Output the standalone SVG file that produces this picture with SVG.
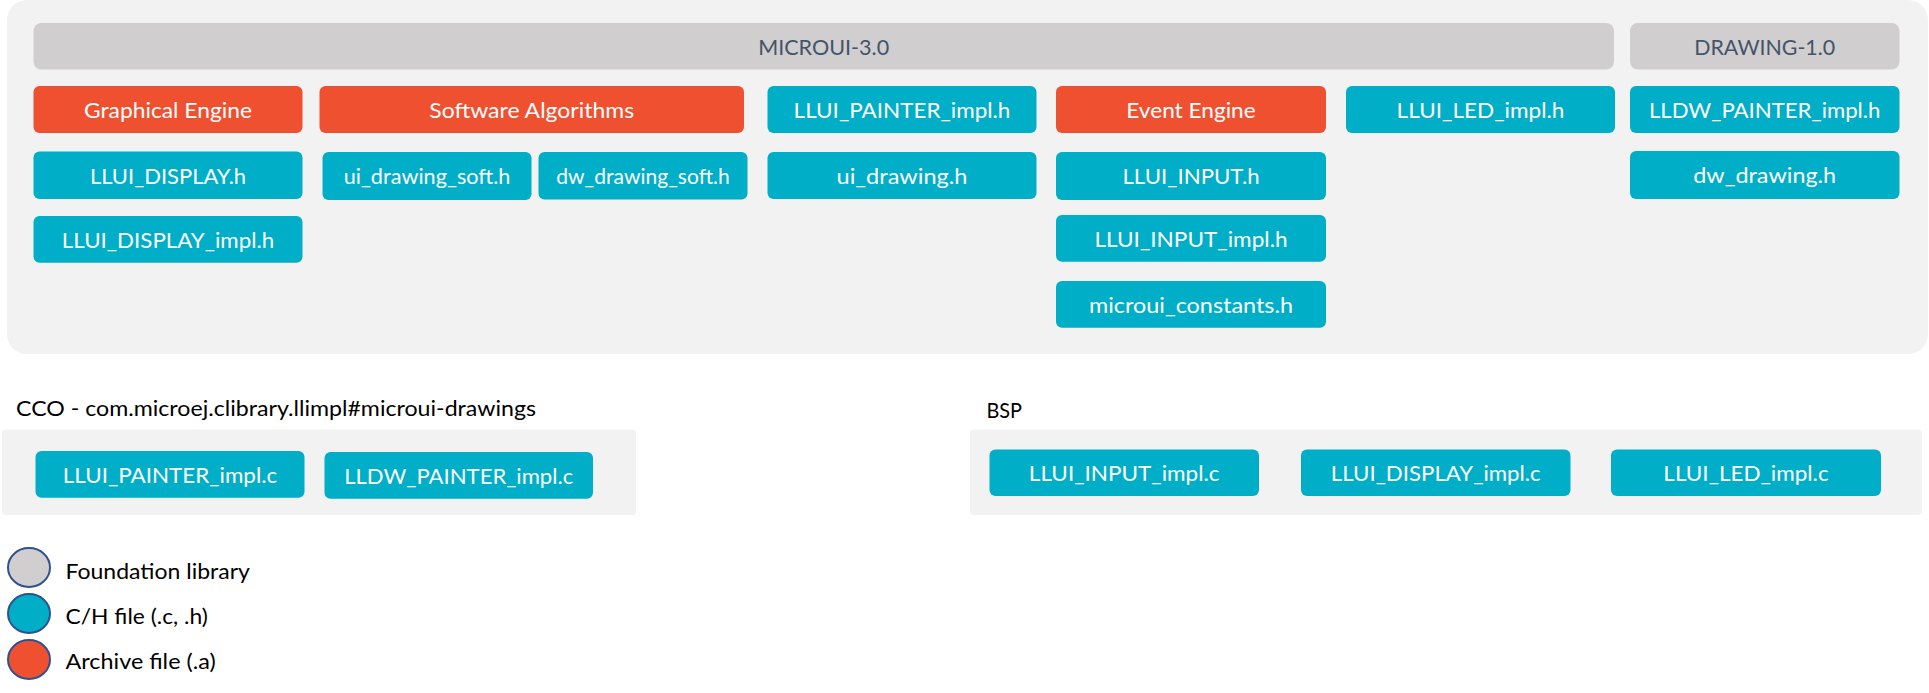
<svg xmlns="http://www.w3.org/2000/svg" width="1929" height="693" viewBox="0 0 1929 693">
  <style>
    text { font-family: Lato, "Open Sans", "Liberation Sans", sans-serif; }
    .panel { fill: #F2F2F2; }
    .lib { fill: #D0CECE; }
    .arch { fill: #EF5130; }
    .file { fill: #00AEC7; }
    .lib-t { fill: #44546A; font-size: 22px; text-anchor: middle; }
    .box-t { fill: #FFFFFF; font-size: 22px; text-anchor: middle; }
    .small-t { fill: #FFFFFF; font-size: 20.2px; text-anchor: middle; }
    .title { fill: #000000; font-size: 20.5px; }
    .legend-t { fill: #000000; font-size: 22px; }
    .dot { stroke: #2F528F; stroke-width: 2; }
  </style>

  <!-- Foundation libraries area -->
  <rect id="platform" class="panel" x="7" y="0" width="1921" height="354" rx="20"/>

  <g id="microui">
    <rect class="lib" x="33.5" y="23" width="1580.5" height="46.5" rx="8"/>
    <text class="lib-t" x="823.7" y="55" textLength="131" lengthAdjust="spacingAndGlyphs">MICROUI-3.0</text>
  </g>
  <g id="drawing">
    <rect class="lib" x="1630" y="23" width="269.5" height="46.5" rx="8"/>
    <text class="lib-t" x="1764.7" y="55" textLength="141" lengthAdjust="spacingAndGlyphs">DRAWING-1.0</text>
  </g>

  <!-- Row 1 -->
  <g id="graphical-engine">
    <rect class="arch" x="33.5" y="86" width="269" height="47" rx="6"/>
    <text class="box-t" x="168" y="118" textLength="168" lengthAdjust="spacingAndGlyphs">Graphical Engine</text>
  </g>
  <g id="software-algorithms">
    <rect class="arch" x="319.5" y="86" width="424.5" height="47" rx="6"/>
    <text class="box-t" x="531.7" y="118" textLength="204.8" lengthAdjust="spacingAndGlyphs">Software Algorithms</text>
  </g>
  <g id="llui-painter-impl-h">
    <rect class="file" x="767.5" y="86" width="269" height="47" rx="6"/>
    <text class="box-t" x="902" y="118" textLength="216.8" lengthAdjust="spacingAndGlyphs">LLUI_PAINTER_impl.h</text>
  </g>
  <g id="event-engine">
    <rect class="arch" x="1056" y="86" width="270" height="47" rx="6"/>
    <text class="box-t" x="1191" y="118" textLength="129.4" lengthAdjust="spacingAndGlyphs">Event Engine</text>
  </g>
  <g id="llui-led-impl-h">
    <rect class="file" x="1346" y="86" width="269" height="47" rx="6"/>
    <text class="box-t" x="1480.5" y="118" textLength="167.8" lengthAdjust="spacingAndGlyphs">LLUI_LED_impl.h</text>
  </g>
  <g id="lldw-painter-impl-h">
    <rect class="file" x="1630" y="86" width="269.5" height="47" rx="6"/>
    <text class="box-t" x="1764.7" y="118" textLength="231.5" lengthAdjust="spacingAndGlyphs">LLDW_PAINTER_impl.h</text>
  </g>

  <!-- Row 2 -->
  <g id="llui-display-h">
    <rect class="file" x="33.5" y="151.5" width="269" height="47.5" rx="6"/>
    <text class="box-t" x="168" y="183.5" textLength="156.2" lengthAdjust="spacingAndGlyphs">LLUI_DISPLAY.h</text>
  </g>
  <g id="ui-drawing-soft-h">
    <rect class="file" x="322.5" y="152" width="209" height="48" rx="6"/>
    <text class="small-t" x="427" y="183.5" textLength="166.7" lengthAdjust="spacingAndGlyphs">ui_drawing_soft.h</text>
  </g>
  <g id="dw-drawing-soft-h">
    <rect class="file" x="538.5" y="152" width="209" height="47.5" rx="6"/>
    <text class="small-t" x="643" y="183.5" textLength="173.5" lengthAdjust="spacingAndGlyphs">dw_drawing_soft.h</text>
  </g>
  <g id="ui-drawing-h">
    <rect class="file" x="767.5" y="152" width="269" height="47" rx="6"/>
    <text class="box-t" x="902" y="183.5" textLength="130.9" lengthAdjust="spacingAndGlyphs">ui_drawing.h</text>
  </g>
  <g id="llui-input-h">
    <rect class="file" x="1056" y="152" width="270" height="48" rx="6"/>
    <text class="box-t" x="1191" y="184" textLength="137.1" lengthAdjust="spacingAndGlyphs">LLUI_INPUT.h</text>
  </g>
  <g id="dw-drawing-h">
    <rect class="file" x="1630" y="151" width="269.5" height="48" rx="6"/>
    <text class="box-t" x="1764.7" y="183" textLength="142.9" lengthAdjust="spacingAndGlyphs">dw_drawing.h</text>
  </g>

  <!-- Row 3 -->
  <g id="llui-display-impl-h">
    <rect class="file" x="33.5" y="216" width="269" height="46.7" rx="6"/>
    <text class="box-t" x="168" y="247.5" textLength="212.3" lengthAdjust="spacingAndGlyphs">LLUI_DISPLAY_impl.h</text>
  </g>
  <g id="llui-input-impl-h">
    <rect class="file" x="1056" y="215" width="270" height="46.7" rx="6"/>
    <text class="box-t" x="1191" y="246.5" textLength="193.2" lengthAdjust="spacingAndGlyphs">LLUI_INPUT_impl.h</text>
  </g>

  <!-- Row 4 -->
  <g id="microui-constants-h">
    <rect class="file" x="1056" y="281" width="270" height="46.7" rx="6"/>
    <text class="box-t" x="1191" y="312.5" textLength="203.9" lengthAdjust="spacingAndGlyphs">microui_constants.h</text>
  </g>

  <!-- CCO block -->
  <g id="cco">
    <text class="title" x="16" y="415.5" textLength="520" lengthAdjust="spacingAndGlyphs">CCO - com.microej.clibrary.llimpl#microui-drawings</text>
    <rect class="panel" x="2" y="429.5" width="634" height="85.5" rx="4"/>
  </g>
  <g id="llui-painter-impl-c">
    <rect class="file" x="35.5" y="451" width="269" height="46.7" rx="6"/>
    <text class="box-t" x="170" y="482.5" textLength="214.3" lengthAdjust="spacingAndGlyphs">LLUI_PAINTER_impl.c</text>
  </g>
  <g id="lldw-painter-impl-c">
    <rect class="file" x="324.5" y="452" width="268.5" height="46.7" rx="6"/>
    <text class="box-t" x="458.7" y="483.5" textLength="229" lengthAdjust="spacingAndGlyphs">LLDW_PAINTER_impl.c</text>
  </g>

  <!-- BSP block -->
  <g id="bsp">
    <text class="title" x="986.5" y="418" textLength="35.5" lengthAdjust="spacingAndGlyphs">BSP</text>
    <rect class="panel" x="970" y="429.5" width="952" height="85.5" rx="4"/>
  </g>
  <g id="llui-input-impl-c">
    <rect class="file" x="989.5" y="449.5" width="269.5" height="46.5" rx="6"/>
    <text class="box-t" x="1124.2" y="480.5" textLength="190.7" lengthAdjust="spacingAndGlyphs">LLUI_INPUT_impl.c</text>
  </g>
  <g id="llui-display-impl-c">
    <rect class="file" x="1301" y="449.5" width="269.5" height="46.5" rx="6"/>
    <text class="box-t" x="1435.7" y="480.5" textLength="209.8" lengthAdjust="spacingAndGlyphs">LLUI_DISPLAY_impl.c</text>
  </g>
  <g id="llui-led-impl-c">
    <rect class="file" x="1611" y="449.5" width="270" height="46.5" rx="6"/>
    <text class="box-t" x="1746" y="480.5" textLength="165.3" lengthAdjust="spacingAndGlyphs">LLUI_LED_impl.c</text>
  </g>

  <!-- Legend -->
  <g id="legend-foundation">
    <ellipse class="dot lib" cx="29" cy="567.5" rx="21" ry="19.5"/>
    <text class="legend-t" x="65.5" y="579" textLength="184.4" lengthAdjust="spacingAndGlyphs">Foundation library</text>
  </g>
  <g id="legend-ch-file">
    <ellipse class="dot file" cx="29" cy="613.5" rx="21" ry="19.5"/>
    <text class="legend-t" x="65.5" y="623.5" textLength="142.4" lengthAdjust="spacingAndGlyphs">C/H file (.c, .h)</text>
  </g>
  <g id="legend-archive">
    <ellipse class="dot arch" cx="29" cy="659.5" rx="21" ry="19.5"/>
    <text class="legend-t" x="65.5" y="669" textLength="150.2" lengthAdjust="spacingAndGlyphs">Archive file (.a)</text>
  </g>
</svg>
